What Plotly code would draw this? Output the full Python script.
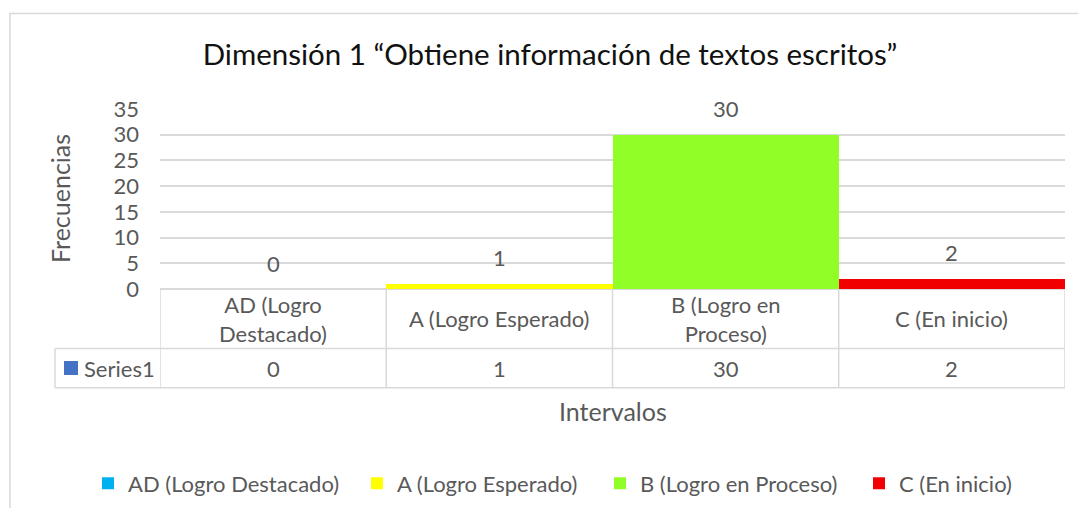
import plotly.graph_objects as go

categories = ["AD (Logro Destacado)", "A (Logro Esperado)", "B (Logro en Proceso)", "C (En inicio)"]
header_labels = ["AD (Logro<br>Destacado)", "A (Logro Esperado)", "B (Logro en<br>Proceso)", "C (En inicio)"]
values = [0, 1, 30, 2]
colors = ["#00B0F0", "#FFFF00", "#91FF27", "#F00000"]
series_name = "Series1"
title_text = "Dimensión 1 “Obtiene información de textos escritos”"
y_title = "Frecuencias"
x_title = "Intervalos"
y_ticks = [0, 5, 10, 15, 20, 25, 30, 35]

# style constants
LEGEND_ENTRY_WIDTHS = [224, 198, 214, 135]
FONT = "Lato"
GRAY = "#595959"
LINE = "#D9D9D9"
FS = 22

W, H = 1078, 508
L, R, T, B = 160, 13, 109, 219
PW = W - L - R
PH = H - T - B


def px_to_py(ypx):
    return (H - B - ypx) / PH


def px_to_px(xpx):
    return (xpx - L) / PW


fig = go.Figure()
for cat, val, col, lw in zip(categories, values, colors, LEGEND_ENTRY_WIDTHS):
    fig.add_trace(go.Bar(x=[cat], y=[val], name=cat, marker=dict(color=col, line=dict(width=0)),
                         showlegend=True, legendwidth=lw))

annotations = []
shapes = []

# data labels
for cat, val in zip(categories, values):
    annotations.append(dict(x=cat, y=val, xref="x", yref="y", text=str(val), showarrow=False,
                            yshift=26, yanchor="middle", font=dict(family=FONT, size=FS, color=GRAY)))

# data table
hdr_y = px_to_py(318.5)
val_y = px_to_py(368)
row1 = px_to_py(348.5)
row2 = px_to_py(387.8)
for cat, lab, val in zip(categories, header_labels, values):
    annotations.append(dict(x=cat, y=hdr_y, xref="x", yref="paper", text=lab, showarrow=False,
                            yanchor="middle", font=dict(family=FONT, size=FS, color=GRAY)))
    annotations.append(dict(x=cat, y=val_y, xref="x", yref="paper", text=str(val), showarrow=False,
                            yanchor="middle", font=dict(family=FONT, size=FS, color=GRAY)))

n = len(categories)
for i in range(n + 1):
    shapes.append(dict(type="line", xref="x", yref="paper", x0=i - 0.5, x1=i - 0.5, y0=0, y1=row2,
                       line=dict(color=LINE, width=1.5)))
for yy in (row1, row2):
    shapes.append(dict(type="line", xref="paper", yref="paper", x0=px_to_px(55), x1=1, y0=yy, y1=yy,
                       line=dict(color=LINE, width=1.5)))
shapes.append(dict(type="line", xref="paper", yref="paper", x0=px_to_px(55), x1=px_to_px(55), y0=row1, y1=row2,
                   line=dict(color=LINE, width=1.5)))
# series key
shapes.append(dict(type="rect", xref="paper", yref="paper", x0=px_to_px(64), x1=px_to_px(78),
                   y0=px_to_py(375), y1=px_to_py(361), fillcolor="#4472C4", line=dict(width=0)))
annotations.append(dict(x=px_to_px(82), y=val_y, xref="paper", yref="paper", text=series_name, showarrow=False,
                        xanchor="left", yanchor="middle", font=dict(family=FONT, size=FS, color=GRAY)))

# axis titles
annotations.append(dict(x=px_to_px(60), y=0.5, xref="paper", yref="paper", text=y_title, showarrow=False,
                        textangle=-90, xanchor="center", yanchor="middle",
                        font=dict(family=FONT, size=25, color=GRAY)))
annotations.append(dict(x=0.5, y=px_to_py(411), xref="paper", yref="paper", text=x_title, showarrow=False,
                        xanchor="center", yanchor="middle", font=dict(family=FONT, size=25, color=GRAY)))

# chart border
shapes.append(dict(type="rect", xref="paper", yref="paper", x0=px_to_px(10), x1=px_to_px(1100),
                   y0=px_to_py(540), y1=px_to_py(13.5), line=dict(color=LINE, width=1.5), fillcolor="rgba(0,0,0,0)",
                   layer="below"))

fig.update_layout(
    width=W, height=H,
    margin=dict(l=L, r=R, t=T, b=B, autoexpand=False),
    paper_bgcolor="white", plot_bgcolor="white",
    barmode="overlay", bargap=0,
    title=dict(text=title_text, x=550 / W, xref="container", xanchor="center",
               y=1 - 55 / H, yref="container", yanchor="middle",
               font=dict(family=FONT, size=29.5, color="#111111")),
    xaxis=dict(type="category", range=[-0.5, n - 0.5], showticklabels=False, showgrid=False,
               zeroline=False, showline=False, ticks=""),
    yaxis=dict(range=[0, 35], tickvals=y_ticks, showgrid=True, gridcolor=LINE, gridwidth=1.5,
               zeroline=True, zerolinecolor=LINE, zerolinewidth=1.5, showline=False, ticks="",
               ticklabelstandoff=20, tickfont=dict(family=FONT, size=FS, color=GRAY)),
    legend=dict(orientation="h", x=px_to_px(88), xref="paper", xanchor="left", y=px_to_py(483.5), yref="paper",
                yanchor="middle", font=dict(family=FONT, size=FS, color=GRAY), traceorder="normal",
                itemwidth=30),
    annotations=annotations,
    shapes=shapes,
)

fig.write_html("out.html", config={"displayModeBar": False},
               post_script="document.body.style.margin='0px';")
